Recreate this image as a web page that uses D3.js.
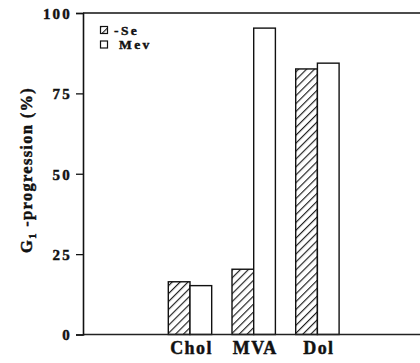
<!DOCTYPE html>
<html>
<head>
<meta charset="utf-8">
<script src="https://cdn.jsdelivr.net/npm/d3@7"></script>
<style>
  html, body { margin: 0; padding: 0; background: #fff; }
  svg { display: block; }
  text {
    font-family: "Liberation Serif", "DejaVu Serif", "Times New Roman", serif;
    font-weight: bold;
    fill: #111;
    stroke: #111;
    stroke-width: 0.45px;
  }
</style>
</head>
<body>
<svg id="chart" width="420" height="363"></svg>
<script>
// Treatments along the x axis
const categories = ["Chol", "MVA", "Dol"];
// Series shown side by side in each group
const seriesNames = ["-Se", "Mev"];
// G1-progression (%) per treatment, one array per series
const seValues  = [16.4, 20.3, 82.6];
const mevValues = [15.2, 95.3, 84.4];
// Y axis ticks
const yTicks = [0, 25, 50, 75, 100];

const svg = d3.select("#chart");

// Plot frame
const frame = { left: 83, right: 420, top: 13, bottom: 334.5 };

const y = d3.scaleLinear().domain([0, 100]).range([frame.bottom, frame.top]);

const x = d3.scaleBand()
  .domain(categories)
  .range([168.3, 339.1])
  .paddingInner(0.319)
  .paddingOuter(0);

const xs = d3.scaleBand()
  .domain(seriesNames)
  .range([0, x.bandwidth()])
  .padding(0);

// Diagonal hatch fill for the -Se series
const defs = svg.append("defs");
const pat = defs.append("pattern")
  .attr("id", "hatch")
  .attr("patternUnits", "userSpaceOnUse")
  .attr("width", 5.6)
  .attr("height", 10)
  .attr("patternTransform", "rotate(45)");
pat.append("rect").attr("width", 5.6).attr("height", 10).attr("fill", "#fff");
pat.append("line")
  .attr("x1", 0.6).attr("y1", 0).attr("x2", 0.6).attr("y2", 10)
  .attr("stroke", "#111").attr("stroke-width", 1.1);

const fills = { "-Se": "url(#hatch)", "Mev": "#fff" };

// Bars
const rows = categories.map((c, i) => ({
  category: c,
  values: [
    { series: "-Se", value: seValues[i] },
    { series: "Mev", value: mevValues[i] }
  ]
}));

const groups = svg.append("g").selectAll("g")
  .data(rows)
  .join("g")
  .attr("transform", d => `translate(${x(d.category)},0)`);

groups.selectAll("rect")
  .data(d => d.values)
  .join("rect")
  .attr("x", d => xs(d.series))
  .attr("y", d => y(d.value))
  .attr("width", xs.bandwidth())
  .attr("height", d => y(0) - y(d.value))
  .attr("fill", d => fills[d.series])
  .attr("stroke", "#111")
  .attr("stroke-width", 1.4);

// Frame lines: top and bottom across the full width
svg.append("line")
  .attr("x1", frame.left).attr("x2", frame.right)
  .attr("y1", y(100)).attr("y2", y(100))
  .attr("stroke", "#111").attr("stroke-width", 1.5);
svg.append("line")
  .attr("x1", frame.left).attr("x2", frame.right)
  .attr("y1", y(0)).attr("y2", y(0))
  .attr("stroke", "#222").attr("stroke-width", 1.3);

// Y axis
const yAxis = svg.append("g")
  .attr("transform", `translate(${frame.left},0)`)
  .call(d3.axisLeft(y).tickValues(yTicks).tickSize(7).tickPadding(4).tickFormat(d3.format("d")));
yAxis.select(".domain").attr("stroke", "#111").attr("stroke-width", 1.6);
yAxis.selectAll(".tick line").attr("stroke", "#111").attr("stroke-width", 1.3);
yAxis.selectAll(".tick text")
  .attr("font-size", 15)
  .attr("letter-spacing", 2.2)
  .attr("dy", "0.36em");

// X category labels
svg.append("g").selectAll("text")
  .data(categories)
  .join("text")
  .attr("x", d => x(d) + x.bandwidth() / 2 + 1.5)
  .attr("y", 354)
  .attr("text-anchor", "middle")
  .attr("font-size", 18)
  .attr("letter-spacing", 1.4)
  .text(d => d);

// Y axis title with subscript
const yTitle = svg.append("text")
  .attr("transform", "translate(32,170) rotate(-90)")
  .attr("text-anchor", "middle")
  .attr("font-size", 16.5)
  .attr("letter-spacing", 1.3);
yTitle.append("tspan").text("G");
yTitle.append("tspan").attr("font-size", 11).attr("dy", 4).text("1");
yTitle.append("tspan").attr("dy", -4).text(" -progression (%)");

// Legend
const legend = svg.append("g");
const legendRows = seriesNames.map((s, i) => ({ series: s, row: i }));
legend.selectAll("rect")
  .data(legendRows)
  .join("rect")
  .attr("x", 100.5)
  .attr("y", d => 26.5 + d.row * 14.5)
  .attr("width", 7)
  .attr("height", 7)
  .attr("fill", d => fills[d.series])
  .attr("stroke", "#111")
  .attr("stroke-width", 1.2);
legend.selectAll("text")
  .data(legendRows)
  .join("text")
  .attr("x", d => d.series === "-Se" ? 114 : 119)
  .attr("y", d => 34.5 + d.row * 14.5)
  .attr("font-size", 13.5)
  .attr("letter-spacing", 2.4)
  .text(d => d.series);
</script>
</body>
</html>
